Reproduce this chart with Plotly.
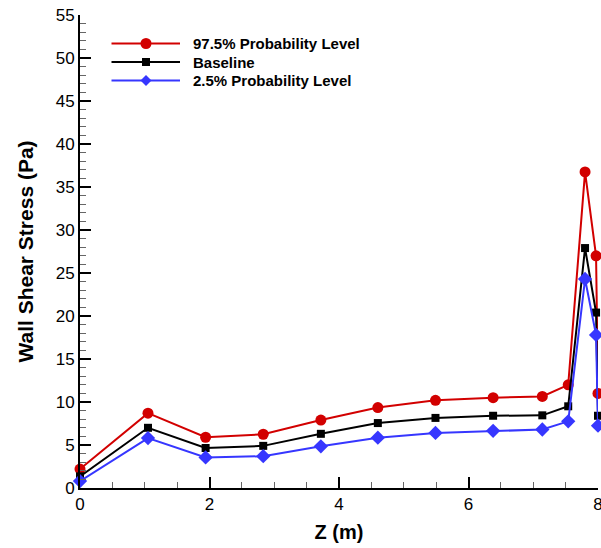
import plotly.graph_objects as go

# ---- data ----
z = [0.0, 1.05, 1.94, 2.83, 3.72, 4.60, 5.49, 6.38, 7.14, 7.54, 7.80, 7.97, 8.0]
p975 = [2.2, 8.7, 5.9, 6.25, 7.9, 9.35, 10.2, 10.5, 10.65, 12.0, 36.75, 27.0, 11.0]
baseline = [1.35, 7.0, 4.65, 4.9, 6.3, 7.55, 8.15, 8.4, 8.45, 9.5, 27.9, 20.4, 8.4]
p025 = [0.8, 5.8, 3.55, 3.7, 4.85, 5.85, 6.4, 6.65, 6.8, 7.75, 24.3, 17.8, 7.25]

names = ["97.5% Probability Level", "Baseline", "2.5% Probability Level"]
x_ticks = [0, 2, 4, 6, 8]
y_ticks = [0, 5, 10, 15, 20, 25, 30, 35, 40, 45, 50, 55]

RED = "#D20000"
BLACK = "#000000"
BLUE = "#3636FF"
FONT = "Liberation Sans, Arial, sans-serif"

W, H = 601, 548
ML, MR, MT, MB = 80, 3, 15, 60
PW, PH = W - ML - MR, H - MT - MB

series = [
    (p975, names[0], RED, "circle", 11),
    (baseline, names[1], BLACK, "square", 8),
    (p025, names[2], BLUE, "diamond", 11),
]

fig = go.Figure()
for ys, nm, col, sym, sz in series:
    fig.add_trace(go.Scatter(
        x=z, y=ys, name=nm, mode="lines+markers",
        line=dict(color=col, width=2),
        marker=dict(color=col, symbol=sym, size=sz, line=dict(width=0)),
        cliponaxis=False, showlegend=False,
    ))

# ---- custom legend (Tecplot style, long line samples) ----
def px2paper_x(px):
    return (px - ML) / PW

def px2paper_y(py):
    return (H - MB - py) / PH

shapes = []
annotations = []
leg_rows = [43.5, 62, 80.5]
line_x0, line_x1, mark_x, text_x = 111.5, 180, 146, 191
for (ys, nm, col, sym, sz), ry in zip(series, leg_rows):
    yp = px2paper_y(ry)
    shapes.append(dict(type="line", xref="paper", yref="paper",
                       x0=px2paper_x(line_x0), x1=px2paper_x(line_x1), y0=yp, y1=yp,
                       line=dict(color=col, width=2)))
    common = dict(xref="paper", yref="paper", xsizemode="pixel", ysizemode="pixel",
                  xanchor=px2paper_x(mark_x), yanchor=yp,
                  fillcolor=col, line=dict(width=0))
    if sym == "circle":
        shapes.append(dict(type="circle", x0=-5.5, x1=5.5, y0=-5.5, y1=5.5, **common))
    elif sym == "square":
        shapes.append(dict(type="rect", x0=-4, x1=4, y0=-4, y1=4, **common))
    else:
        shapes.append(dict(type="path", path="M0,-5.5 L5.5,0 L0,5.5 L-5.5,0 Z", **common))
    annotations.append(dict(xref="paper", yref="paper", x=px2paper_x(text_x), y=yp,
                            xanchor="left", yanchor="middle", showarrow=False,
                            text=nm, font=dict(family=FONT, size=15, color="black", weight="bold")))

axis_common = dict(
    showline=True, linecolor="black", linewidth=2, mirror=False,
    showgrid=False, zeroline=False,
    ticks="inside", ticklen=11, tickwidth=2, tickcolor="black",
    tickfont=dict(family=FONT, size=17, color="black"),
    ticklabeloverflow="allow",
)

fig.update_layout(
    width=W, height=H,
    margin=dict(l=ML, r=MR, t=MT, b=MB, autoexpand=False),
    paper_bgcolor="white", plot_bgcolor="white",
    font=dict(family=FONT, color="black"),
    shapes=shapes, annotations=annotations,
    showlegend=False,
    xaxis=dict(range=[0, 8], tickvals=x_ticks, ticktext=[str(v) for v in x_ticks],
               minor=dict(dtick=0.5, ticks="inside", ticklen=6, tickwidth=1, tickcolor="#666666"),
               title=dict(text="Z (m)", standoff=12,
                          font=dict(family=FONT, size=20, color="black", weight="bold")),
               automargin=False, **axis_common),
    yaxis=dict(range=[0, 55], tickvals=y_ticks, ticktext=[str(v) for v in y_ticks],
               minor=dict(dtick=1, ticks="inside", ticklen=6, tickwidth=1, tickcolor="#666666"),
               title=dict(text="Wall Shear Stress (Pa)", standoff=16,
                          font=dict(family=FONT, size=21, color="black", weight="bold")),
               automargin=False, **axis_common),
)

fig.write_html(
    "out.html",
    config={"displayModeBar": False},
    post_script="document.body.style.margin='0';document.body.style.overflow='hidden';",
)
